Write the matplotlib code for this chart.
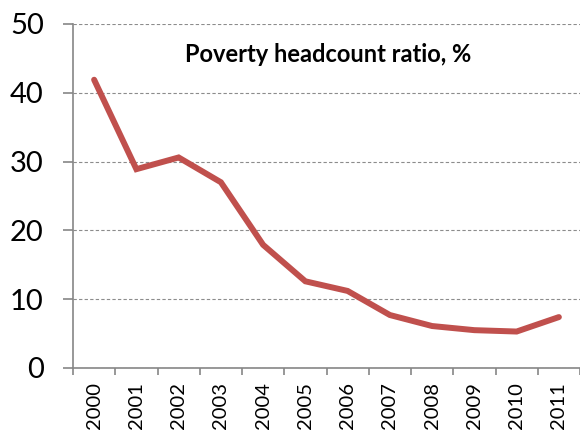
import matplotlib
matplotlib.use("Agg")
import matplotlib.pyplot as plt
import numpy as np

years = ["2000", "2001", "2002", "2003", "2004", "2005",
         "2006", "2007", "2008", "2009", "2010", "2011"]
poverty = [41.9, 28.9, 30.6, 27.0, 17.9, 12.6, 11.2, 7.7, 6.1, 5.5, 5.3, 7.4]
y_ticks = [0, 10, 20, 30, 40, 50]
title = "Poverty headcount ratio, %"

plt.rcParams["font.family"] = ["Lato", "DejaVu Sans"]

W, H = 580, 432
fig = plt.figure(figsize=(W / 100, H / 100), dpi=100)
ax = fig.add_axes([73 / W, 64 / H, 507 / W, 344 / H])

x = np.arange(len(years))
ax.plot(x, poverty, color="#C0504D", linewidth=4.3, solid_capstyle="round",
        solid_joinstyle="miter", zorder=3)

ax.set_xlim(-0.5, len(years) - 0.5)
ax.set_ylim(0, 50)
ax.set_yticks(y_ticks)
ax.yaxis.grid(True, linestyle=(0, (3, 2)), color="#8c8c8c", linewidth=0.8)
ax.set_axisbelow(True)

ax.set_xticks(x)
ax.set_xticklabels(years, rotation=90, fontsize=14.5)
ax.set_xticks(np.arange(-0.5, len(years) + 0.5, 1), minor=True)
ax.tick_params(axis="x", which="major", length=0, pad=10)
ax.tick_params(axis="x", which="minor", length=5, width=1.2, color="#868686")
ax.tick_params(axis="y", length=7, width=1.2, color="#868686", pad=14, labelsize=21)

for side in ("top", "right"):
    ax.spines[side].set_visible(False)
for side in ("left", "bottom"):
    ax.spines[side].set_color("#868686")
    ax.spines[side].set_linewidth(1.2)

fig.text(328 / W, 1 - 55 / H, title, fontsize=17, fontweight="bold",
         ha="center", va="center")

fig.savefig("out.png", dpi=100)
